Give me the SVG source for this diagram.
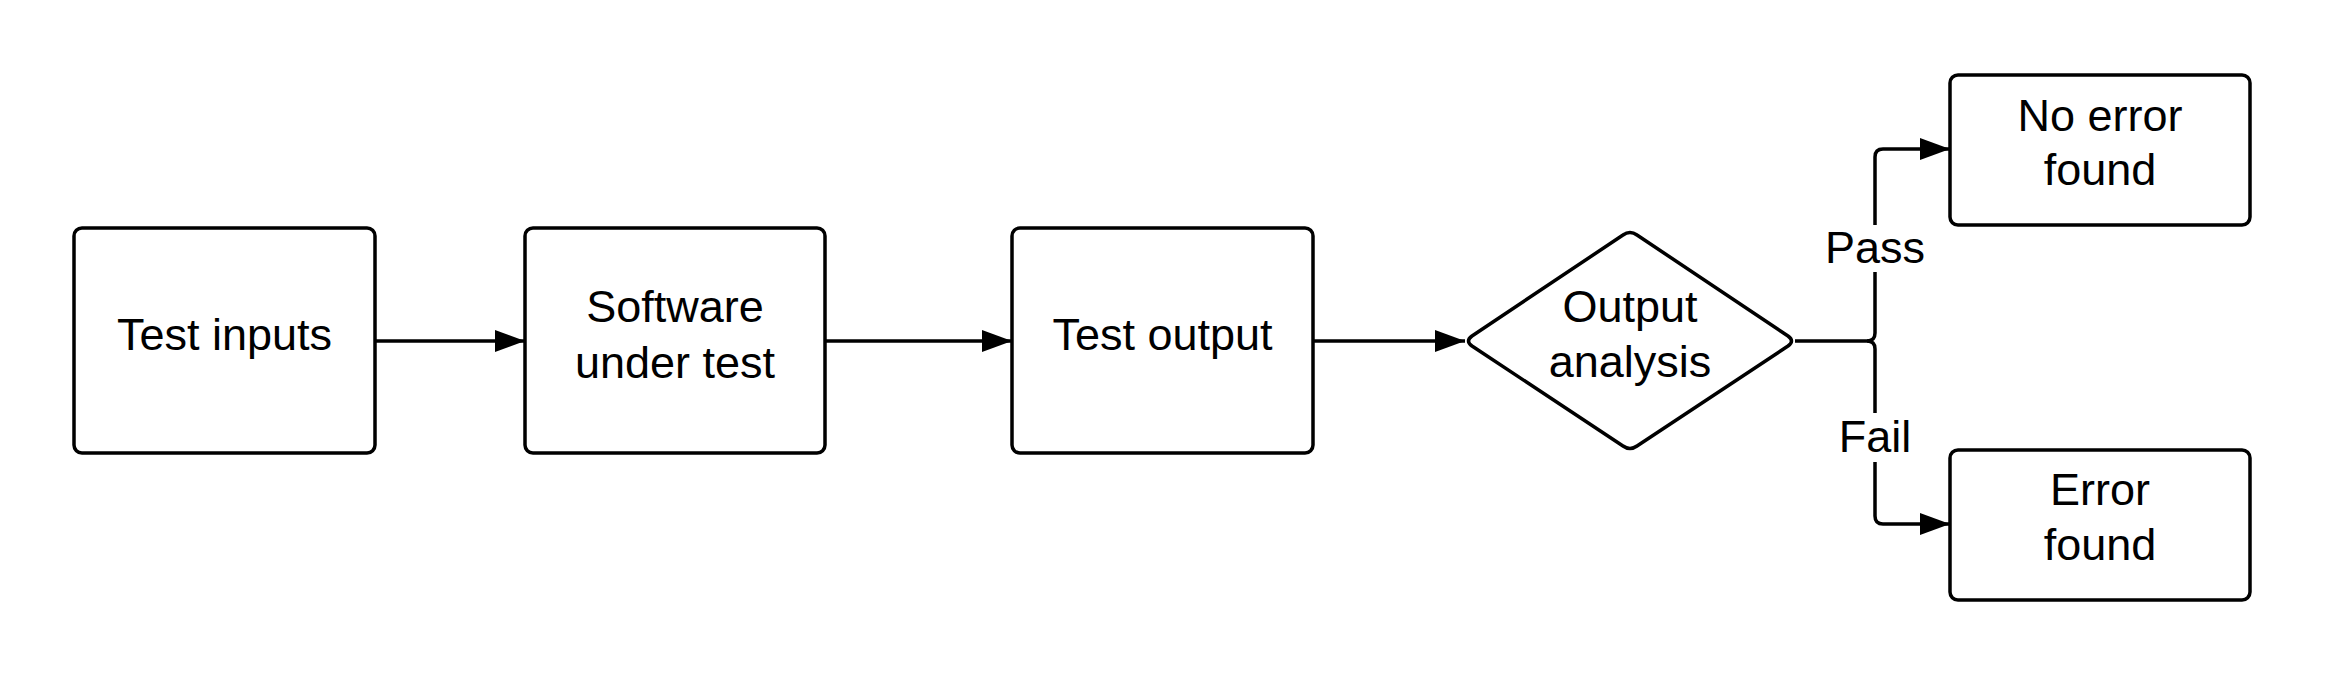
<svg xmlns="http://www.w3.org/2000/svg" width="2325" height="675" viewBox="0 0 2325 675">
<defs>
<marker id="arr" viewBox="0 0 30 22" refX="30" refY="11" markerWidth="30" markerHeight="22" markerUnits="userSpaceOnUse" orient="auto">
<path d="M0,0 L30,11 L0,22 Z" fill="#000"/>
</marker>
<style>
.box{fill:#fff;stroke:#000;stroke-width:3.5}
.t{font-family:"Liberation Sans",Arial,sans-serif;font-size:45px;fill:#000;text-anchor:middle}
.c{fill:none;stroke:#000;stroke-width:3.5}
.lbl{fill:#fff}
</style>
</defs>
<rect width="2325" height="675" fill="#fff"/>
<g id="connectors">
<path class="c" d="M375,341 H525" marker-end="url(#arr)"/>
<path class="c" d="M825,341 H1012" marker-end="url(#arr)"/>
<path class="c" d="M1313,341 H1465" marker-end="url(#arr)"/>
<path class="c" d="M1795,341 H1867 Q1875,341 1875,333 V157 Q1875,149 1883,149 H1950" marker-end="url(#arr)"/>
<path class="c" d="M1867,341 Q1875,341 1875,349 V516 Q1875,524 1883,524 H1950" marker-end="url(#arr)"/>
<rect class="lbl" x="1835" y="225" width="80" height="47"/>
<text class="t" x="1875" y="263">Pass</text>
<rect class="lbl" x="1840" y="413" width="70" height="49"/>
<text class="t" x="1875" y="452">Fail</text>
</g>
<g id="test-inputs">
<rect class="box" x="74" y="228" width="301" height="225" rx="8"/>
<text class="t" x="224.5" y="350">Test inputs</text>
</g>
<g id="software-under-test">
<rect class="box" x="525" y="228" width="300" height="225" rx="8"/>
<text class="t" x="675" y="322">Software</text>
<text class="t" x="675" y="378">under test</text>
</g>
<g id="test-output">
<rect class="box" x="1012" y="228" width="301" height="225" rx="8"/>
<text class="t" x="1162.5" y="350">Test output</text>
</g>
<g id="output-analysis">
<path class="box" stroke-linejoin="round" d="M1623,235 Q1630,230 1637,235 L1788,336 Q1795,341 1788,346 L1637,446 Q1630,451 1623,446 L1472,346 Q1465,341 1472,336 Z"/>
<text class="t" x="1630" y="322">Output</text>
<text class="t" x="1630" y="377">analysis</text>
</g>
<g id="no-error-found">
<rect class="box" x="1950" y="75" width="300" height="150" rx="8"/>
<text class="t" x="2100" y="131">No error</text>
<text class="t" x="2100" y="185">found</text>
</g>
<g id="error-found">
<rect class="box" x="1950" y="450" width="300" height="150" rx="8"/>
<text class="t" x="2100" y="505">Error</text>
<text class="t" x="2100" y="560">found</text>
</g>
</svg>
